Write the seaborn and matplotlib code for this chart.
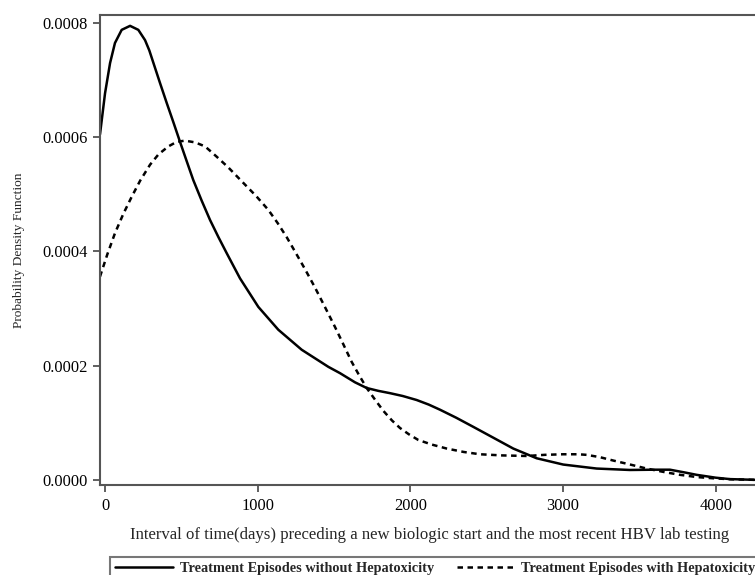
import numpy as np
import pandas as pd
import seaborn as sns
import matplotlib.pyplot as plt
from matplotlib.ticker import FormatStrFormatter

# density curves (days, density x 1e-4)
days_without = [-33, 0, 33, 65, 109, 164, 218, 262, 290, 317, 360, 404, 448, 491, 535,
                578, 633, 688, 743, 797, 884, 1004, 1135, 1288, 1463, 1539, 1637, 1714,
                1790, 1866, 1950, 2041, 2120, 2194, 2300, 2412, 2550, 2674, 2827, 3001,
                3220, 3438, 3600, 3700, 3800, 3875, 4000, 4093, 4290]
pdf_without = [6.05, 6.77, 7.30, 7.65, 7.88, 7.95, 7.88, 7.70, 7.52, 7.30, 6.95, 6.60,
               6.26, 5.92, 5.58, 5.25, 4.89, 4.55, 4.25, 3.97, 3.53, 3.03, 2.63, 2.28,
               1.98, 1.87, 1.71, 1.61, 1.56, 1.52, 1.47, 1.40, 1.32, 1.23, 1.09, 0.93,
               0.73, 0.55, 0.38, 0.27, 0.20, 0.175, 0.18, 0.18, 0.13, 0.09, 0.04, 0.015,
               0.0]

days_with = [-33, 15, 65, 120, 175, 230, 295, 350, 415, 470, 524, 590, 655, 731, 808,
             906, 990, 1069, 1130, 1190, 1244, 1310, 1375, 1440, 1506, 1560, 1615, 1665,
             1714, 1770, 1823, 1880, 1932, 1990, 2052, 2140, 2238, 2350, 2456, 2600,
             2762, 2880, 3001, 3100, 3154, 3240, 3329, 3440, 3547, 3660, 3766, 3880,
             3982, 4100, 4290]
pdf_with = [3.56, 3.95, 4.32, 4.66, 4.96, 5.24, 5.52, 5.70, 5.84, 5.92, 5.94, 5.91, 5.84,
            5.66, 5.47, 5.20, 4.97, 4.73, 4.50, 4.25, 4.00, 3.69, 3.37, 3.03, 2.68, 2.38,
            2.07, 1.83, 1.61, 1.40, 1.21, 1.04, 0.91, 0.80, 0.70, 0.62, 0.55, 0.49, 0.45,
            0.43, 0.42, 0.44, 0.45, 0.45, 0.44, 0.40, 0.34, 0.27, 0.20, 0.14, 0.09, 0.05,
            0.03, 0.012, 0.0]

lbl_without = "Treatment Episodes without Hepatoxicity"
lbl_with = "Treatment Episodes with Hepatoxicity"

df = pd.concat([
    pd.DataFrame({"days": days_without, "pdf": np.array(pdf_without) * 1e-4, "group": lbl_without}),
    pd.DataFrame({"days": days_with, "pdf": np.array(pdf_with) * 1e-4, "group": lbl_with}),
])

sns.set_style("ticks")
plt.rcParams['font.family'] = ['Liberation Serif', 'DejaVu Serif']

fig = plt.figure(figsize=(7.55, 5.75), dpi=100)
ax = fig.add_axes([100/755, 1 - 485/575, 660/755, 470/575])

sns.lineplot(data=df, x="days", y="pdf", style="group", color="black",
             dashes={lbl_without: "", lbl_with: (2.2, 1.8)},
             estimator=None, linewidth=1.8, ax=ax, legend=False)

ax.set_xlim(-33, 4290)
ax.set_ylim(-8.8e-6, 8.14e-4)
ax.set_xticks([0, 1000, 2000, 3000, 4000])
ax.set_yticks([0, 0.0002, 0.0004, 0.0006, 0.0008])
ax.yaxis.set_major_formatter(FormatStrFormatter("%.4f"))
ax.tick_params(direction="out", length=5, width=1.2, color="#444444",
               labelsize=11.8, labelcolor="black", pad=4)
for s in ax.spines.values():
    s.set_color("#555555")
    s.set_linewidth(1.5)

ax.set_xlabel("Interval of time(days) preceding a new biologic start and the most recent HBV lab testing",
              fontsize=12.1, labelpad=10)
ax.set_ylabel("Probability Density Function", fontsize=9.6, labelpad=12)

handles = [plt.Line2D([], [], color="black", lw=1.8),
           plt.Line2D([], [], color="black", lw=1.8, dashes=(2.2, 1.8))]
leg = fig.legend(handles, [lbl_without, lbl_with], loc="upper left",
                 bbox_to_anchor=(110/755, 1 - 557/575), ncol=2, frameon=True,
                 fancybox=False, borderaxespad=0, handlelength=4.1,
                 handletextpad=0.45, columnspacing=1.6, borderpad=0.35,
                 prop={"weight": "bold", "size": 10.25})
leg.get_frame().set_edgecolor("#555555")
leg.get_frame().set_linewidth(1.5)

fig.savefig("out.png", dpi=100)
